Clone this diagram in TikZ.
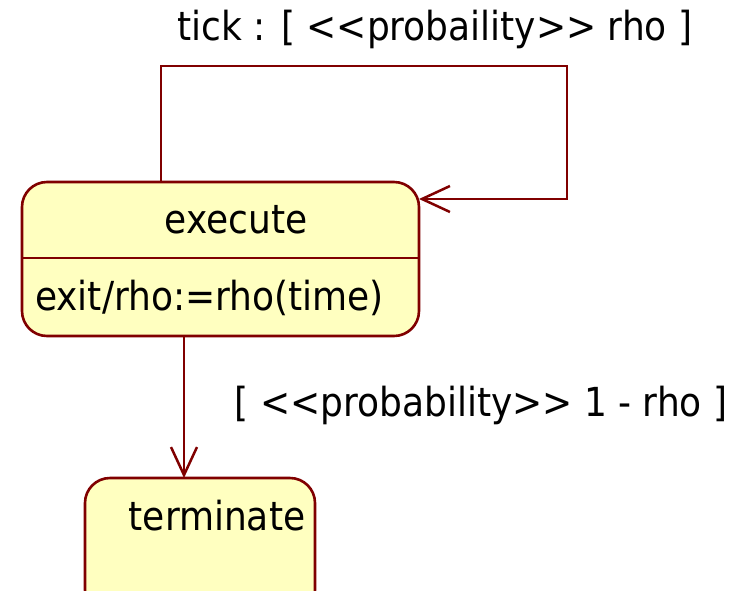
\documentclass[tikz,border=0pt]{standalone}
\usepackage{fontspec}
\setmainfont{DejaVu Sans Condensed}
\usetikzlibrary{arrows.meta}
\definecolor{edge}{HTML}{800000}
\definecolor{statefill}{HTML}{FFFFC0}
\tikzset{
  statebox/.style={draw=edge, fill=statefill, line width=2.6pt, rounded corners=25pt},
  trans/.style={draw=edge, line width=2.5pt, -{Straight Barb[length=28pt,width=26pt,line width=2.5pt]}},
  lbl/.style={font=\fontsize{40}{46}\selectfont, inner sep=0pt, text=black}
}
\begin{document}
\begin{tikzpicture}[x=1pt,y=-1pt]
  \useasboundingbox (0,0) rectangle (739,590);
  % state "execute" with its exit action compartment
  \draw[statebox] (22,182) rectangle (419,336);
  \draw[edge, line width=2.5pt] (22,258) -- (419,258);
  \node[lbl] (exec) at (236,220) {execute};
  \node[lbl, anchor=west] (exitact) at (35,298) {exit/rho:=rho(time)};
  \coordinate (execN) at (161,182);
  \coordinate (execE) at (419,199);
  \coordinate (execS) at (184,336);
  % state "terminate"
  \draw[statebox] (85,478) rectangle (315,615);
  \node[lbl] (term) at (217,516) {terminate};
  \coordinate (termN) at (184,478);
  % self transition
  \draw[trans] (execN) -- (161,66) -- (567,66) -- (567,199) -- (execE);
  \node[lbl] (tick) at (435,29) {tick : [ <{}<probaility>{}> rho ]};
  % transition to terminate
  \draw[trans] (execS) -- (termN);
  \node[lbl] (guard) at (481,405) {[ <{}<probability>{}> 1 - rho ]};
\end{tikzpicture}
\end{document}
